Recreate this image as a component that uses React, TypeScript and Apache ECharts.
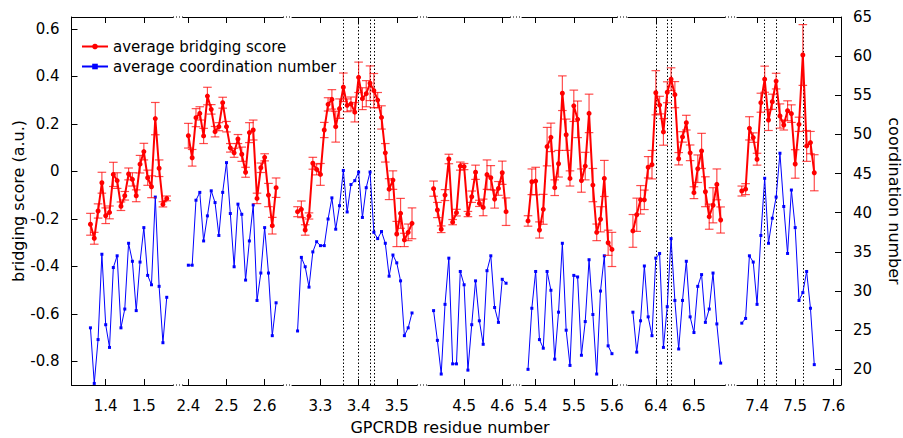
import React, { useEffect, useRef } from 'react';
import * as echarts from 'echarts';

// ---------- data ----------
const helixIds = ['1', '2', '3', '4', '5', '6', '7'];
const helixStart = [36, 40, 24, 42, 38, 34, 36];

const score1 = [-0.223, -0.282, -0.167, -0.048, -0.187, -0.173, -0.013, -0.039, -0.147, -0.103, -0.011, -0.034, -0.103, 0.03, 0.083, -0.027, -0.065, 0.222, 0.013, -0.139, -0.114];
const err1 = [0.046, 0.025, 0.03, 0.044, 0.033, 0.027, 0.051, 0.033, 0.018, 0.018, 0.025, 0.028, 0.025, 0.037, 0.035, 0.032, 0.046, 0.068, 0.035, 0.011, 0.01];
const coord1 = [25.3, 18.2, 23.8, 34.7, 25.7, 22.8, 33.0, 34.5, 25.3, 27.7, 36.1, 33.8, 27.5, 33.7, 38.1, 32.0, 30.8, 42.0, 30.6, 23.4, 29.2];

const score2 = [0.15, 0.057, 0.226, 0.244, 0.149, 0.317, 0.261, 0.167, 0.188, 0.289, 0.188, 0.099, 0.078, 0.136, 0.072, -0.004, 0.163, 0.174, -0.114, 0.015, 0.059, -0.1, -0.229, -0.069];
const err2 = [0.052, 0.035, 0.038, 0.028, 0.032, 0.037, 0.02, 0.022, 0.017, 0.023, 0.022, 0.018, 0.019, 0.019, 0.03, 0.021, 0.042, 0.042, 0.022, 0.02, 0.015, 0.049, 0.035, 0.041];
const coord2 = [33.3, 33.3, 41.6, 42.6, 36.4, 39.6, 42.8, 41.3, 37.1, 42.6, 46.4, 39.9, 33.1, 41.1, 39.8, 31.4, 36.4, 41.0, 28.8, 32.3, 38.1, 32.3, 24.3, 28.5];

const score3 = [-0.17, -0.16, -0.247, -0.188, 0.034, 0.008, -0.013, 0.174, 0.282, 0.303, 0.188, 0.264, 0.354, 0.278, 0.284, 0.249, 0.396, 0.306, 0.327, 0.371, 0.34, 0.3, 0.227, 0.078, -0.075, -0.037, -0.264, -0.177, -0.289, -0.257, -0.219];
const err3 = [0.021, 0.035, 0.022, 0.013, 0.025, 0.023, 0.046, 0.032, 0.028, 0.041, 0.065, 0.041, 0.06, 0.027, 0.029, 0.041, 0.064, 0.046, 0.055, 0.073, 0.072, 0.032, 0.049, 0.039, 0.044, 0.039, 0.053, 0.063, 0.028, 0.035, 0.065];
const coord3 = [24.9, 34.3, 33.1, 30.5, 35.0, 36.3, 35.8, 35.8, 39.2, 41.9, 37.9, 40.9, 45.4, 40.1, 43.6, 44.1, 45.2, 39.4, 43.2, 45.2, 37.5, 36.7, 37.6, 36.1, 31.9, 34.6, 33.6, 31.3, 24.3, 25.3, 27.2];

const score4 = [-0.073, -0.163, -0.244, -0.1, 0.052, -0.214, -0.174, 0.022, 0.02, -0.18, -0.107, -0.004, -0.135, -0.152, -0.014, -0.027, -0.117, -0.072, -0.006, -0.17];
const err4 = [0.032, 0.032, 0.014, 0.023, 0.02, 0.011, 0.014, 0.017, 0.013, 0.011, 0.024, 0.03, 0.013, 0.035, 0.062, 0.051, 0.038, 0.029, 0.049, 0.058];
const coord4 = [27.5, 23.7, 19.4, 28.3, 34.2, 20.7, 20.7, 32.5, 30.8, 19.9, 25.7, 31.3, 26.2, 23.2, 32.6, 34.5, 27.9, 26.0, 31.5, 31.0];

const score5 = [-0.209, -0.044, -0.041, -0.247, -0.16, 0.104, 0.143, -0.069, 0.032, 0.329, 0.154, -0.03, 0.276, 0.219, -0.039, 0.022, 0.244, -0.058, -0.257, -0.202, -0.03, -0.301, -0.329];
const err5 = [0.022, 0.054, 0.058, 0.034, 0.063, 0.081, 0.06, 0.033, 0.056, 0.073, 0.066, 0.032, 0.066, 0.077, 0.049, 0.058, 0.081, 0.07, 0.035, 0.053, 0.076, 0.053, 0.072];
const coord5 = [20.0, 27.8, 32.5, 23.8, 22.7, 32.5, 30.1, 21.3, 27.3, 36.1, 25.0, 20.5, 32.0, 31.8, 21.8, 26.1, 34.0, 27.0, 19.4, 30.0, 34.5, 23.0, 22.0];

const score6 = [-0.251, -0.183, -0.12, -0.12, 0.017, 0.028, 0.331, 0.279, 0.166, 0.333, 0.388, 0.323, 0.053, 0.145, 0.205, 0.078, -0.09, 0.011, 0.086, -0.086, -0.191, -0.143, -0.055, -0.205];
const err6 = [0.069, 0.07, 0.06, 0.041, 0.045, 0.06, 0.093, 0.037, 0.056, 0.044, 0.048, 0.055, 0.026, 0.022, 0.031, 0.033, 0.025, 0.058, 0.074, 0.063, 0.053, 0.074, 0.065, 0.055];
const coord6 = [27.3, 22.2, 26.2, 33.2, 26.7, 24.3, 34.2, 34.8, 22.8, 28.0, 36.7, 28.8, 22.6, 28.8, 33.8, 26.7, 24.7, 30.6, 32.1, 26.0, 27.7, 32.3, 25.8, 20.8];

const score7 = [-0.083, -0.075, 0.181, 0.142, 0.051, 0.289, 0.388, 0.216, 0.293, 0.38, 0.233, 0.195, 0.255, 0.243, 0.031, 0.198, 0.49, 0.107, 0.121, -0.006];
const err7 = [0.021, 0.023, 0.049, 0.02, 0.025, 0.04, 0.055, 0.044, 0.032, 0.033, 0.051, 0.021, 0.042, 0.037, 0.06, 0.03, 0.128, 0.065, 0.047, 0.076];
const coord7 = [25.9, 26.5, 34.5, 33.7, 28.3, 37.1, 44.4, 36.1, 39.3, 42.0, 47.6, 40.8, 34.8, 42.9, 38.1, 28.8, 29.8, 32.5, 27.8, 20.6];

const scores = [score1, score2, score3, score4, score5, score6, score7];
const errors = [err1, err2, err3, err4, err5, err6, err7];
const coords = [coord1, coord2, coord3, coord4, coord5, coord6, coord7];

// x tick residues per helix (label = helix.residue/10)
const xTickResidues = [[40, 50], [40, 50, 60], [30, 40, 50], [50, 60], [40, 50, 60], [40, 50], [40, 50, 60]];
// residues marked with dotted vertical lines
const markedResidues = [[], [], [36, 40, 43, 44], [], [], [40, 43, 44], [42, 45, 52]];

const scoreTicks = [-0.8, -0.6, -0.4, -0.2, 0, 0.2, 0.4, 0.6];
const coordTicks = [20, 25, 30, 35, 40, 45, 50, 55, 60, 65];

const SCORE_NAME = 'average bridging score';
const COORD_NAME = 'average coordination number';

// ---------- layout ----------
const PLOT_TOP = 17;
const PLOT_BOTTOM = 385;
const H = 438;
const PX_PER_RES = 3.815;
const segPx = [[71.5, 173], [183, 283], [292, 417], [428, 510], [522, 617], [628, 725], [737, 841]];
const anchor = [[40, 105.7], [50, 226.5], [40, 358.6], [50, 464.1], [50, 573.8], [40, 655.8], [50, 795.2]];
const FONT = 'DejaVu Sans';

export default function App() {
  const ref = useRef<HTMLDivElement>(null);
  useEffect(() => {
    if (!ref.current) return;
    const chart = echarts.init(ref.current, null, { renderer: 'svg' });

    const grids: any[] = [];
    const xAxes: any[] = [];
    const yAxes: any[] = [];
    const series: any[] = [];
    const graphics: any[] = [];

    helixIds.forEach((hid, i) => {
      const [l, r] = segPx[i];
      const [ar, ap] = anchor[i];
      const min = ar - (ap - l) / PX_PER_RES;
      const max = ar + (r - ap) / PX_PER_RES;
      grids.push({ left: l, width: r - l, top: PLOT_TOP, height: PLOT_BOTTOM - PLOT_TOP });
      const axisBase = {
        type: 'value', gridIndex: i, min, max,
        axisLine: { show: true, onZero: false, lineStyle: { color: '#000', width: 1 } },
        axisTick: { show: true, inside: true, length: 6, customValues: xTickResidues[i], lineStyle: { color: '#000' } },
        splitLine: { show: false },
      };
      xAxes.push({
        ...axisBase, position: 'bottom',
        axisLabel: {
          show: true, customValues: xTickResidues[i], margin: 13,
          formatter: (v: number) => `${hid}.${Math.round(v) / 10}`,
          color: '#000', fontSize: 15, fontFamily: FONT,
        },
      });
      xAxes.push({ ...axisBase, position: 'top', axisLabel: { show: false } });

      yAxes.push({
        type: 'value', gridIndex: i, min: -0.9, max: 0.65, position: 'left',
        show: i === 0,
        axisLine: { show: true, lineStyle: { color: '#000', width: 1 } },
        axisTick: { show: true, inside: true, length: 6, customValues: scoreTicks, lineStyle: { color: '#000' } },
        axisLabel: {
          customValues: scoreTicks, margin: 12, color: '#000', fontSize: 15, fontFamily: FONT,
          formatter: (v: number) => (Math.abs(v) < 1e-9 ? '0' : v.toFixed(1)),
        },
        splitLine: { show: false },
        name: 'bridging score (a.u.)', nameLocation: 'middle', nameRotate: 90, nameGap: 38,
        nameTextStyle: { color: '#000', fontSize: 16, fontFamily: FONT },
      });
      yAxes.push({
        type: 'value', gridIndex: i, min: 18, max: 65, position: 'right',
        show: i === helixIds.length - 1,
        axisLine: { show: true, lineStyle: { color: '#000', width: 1 } },
        axisTick: { show: true, inside: true, length: 6, customValues: coordTicks, lineStyle: { color: '#000' } },
        axisLabel: { customValues: coordTicks, margin: 12, color: '#000', fontSize: 15, fontFamily: FONT },
        splitLine: { show: false },
        name: 'coordination number', nameLocation: 'middle', nameRotate: -90, nameGap: 45,
        nameTextStyle: { color: '#000', fontSize: 16, fontFamily: FONT },
      });

      const start = helixStart[i];
      const xs = scores[i].map((_, k) => start + k);

      series.push({
        name: COORD_NAME, type: 'line', xAxisIndex: 2 * i, yAxisIndex: 2 * i + 1,
        data: coords[i].map((c, k) => [xs[k], c]),
        symbol: 'rect', symbolSize: 3, showSymbol: true,
        lineStyle: { color: '#0000ff', width: 1 }, itemStyle: { color: '#0000ff' },
        z: 2,
      });
      series.push({
        type: 'custom', xAxisIndex: 2 * i, yAxisIndex: 2 * i, coordinateSystem: 'cartesian2d',
        data: scores[i].map((s, k) => [xs[k], s - errors[i][k], s + errors[i][k]]),
        encode: { x: 0, y: [1, 2] },
        z: 3,
        renderItem: (params: any, api: any) => {
          const x = api.value(0);
          const p1 = api.coord([x, api.value(1)]);
          const p2 = api.coord([x, api.value(2)]);
          const w = 4.3;
          const style = { stroke: 'rgba(255,0,0,0.7)', lineWidth: 1.2 };
          return {
            type: 'group',
            children: [
              { type: 'line', shape: { x1: p1[0], y1: p1[1], x2: p2[0], y2: p2[1] }, style },
              { type: 'line', shape: { x1: p1[0] - w, y1: p1[1], x2: p1[0] + w, y2: p1[1] }, style },
              { type: 'line', shape: { x1: p2[0] - w, y1: p2[1], x2: p2[0] + w, y2: p2[1] }, style },
            ],
          };
        },
      });
      series.push({
        name: SCORE_NAME, type: 'line', xAxisIndex: 2 * i, yAxisIndex: 2 * i,
        data: scores[i].map((s, k) => [xs[k], s]),
        symbol: 'circle', symbolSize: 5, showSymbol: true,
        lineStyle: { color: '#ff0000', width: 2 }, itemStyle: { color: '#ff0000' },
        z: 4,
        markLine: markedResidues[i].length
          ? {
              silent: true, symbol: ['none', 'none'], label: { show: false },
              lineStyle: { color: '#000', type: [1.5, 2], width: 1 },
              data: markedResidues[i].map((m) => ({ xAxis: m })),
              z: 1,
            }
          : undefined,
      });

      if (i < helixIds.length - 1) {
        const gx1 = r;
        const gx2 = segPx[i + 1][0];
        [PLOT_TOP, PLOT_BOTTOM].forEach((y) => {
          graphics.push({
            type: 'line', shape: { x1: gx1, y1: y, x2: gx2, y2: y },
            style: { stroke: '#000', lineWidth: 1, lineDash: [1, 2] },
          });
        });
      }
    });

    graphics.push({
      type: 'text', x: 450, y: 427,
      style: { text: 'GPCRDB residue number', fontSize: 16, fontFamily: FONT, fill: '#000', textAlign: 'center', textVerticalAlign: 'middle' },
    });

    chart.setOption({
      animation: false,
      backgroundColor: '#fff',
      textStyle: { fontFamily: FONT },
      legend: {
        data: [SCORE_NAME, COORD_NAME], orient: 'vertical', left: 76, top: 34,
        itemWidth: 26, itemHeight: 7, itemGap: 5,
        textStyle: { color: '#000', fontSize: 15, fontFamily: FONT },
      },
      grid: grids,
      xAxis: xAxes,
      yAxis: yAxes,
      series,
      graphic: graphics,
    });
    return () => chart.dispose();
  }, []);
  return <div ref={ref} style={{ position: 'fixed', left: 0, top: 0, width: 903, height: H }} />;
}
